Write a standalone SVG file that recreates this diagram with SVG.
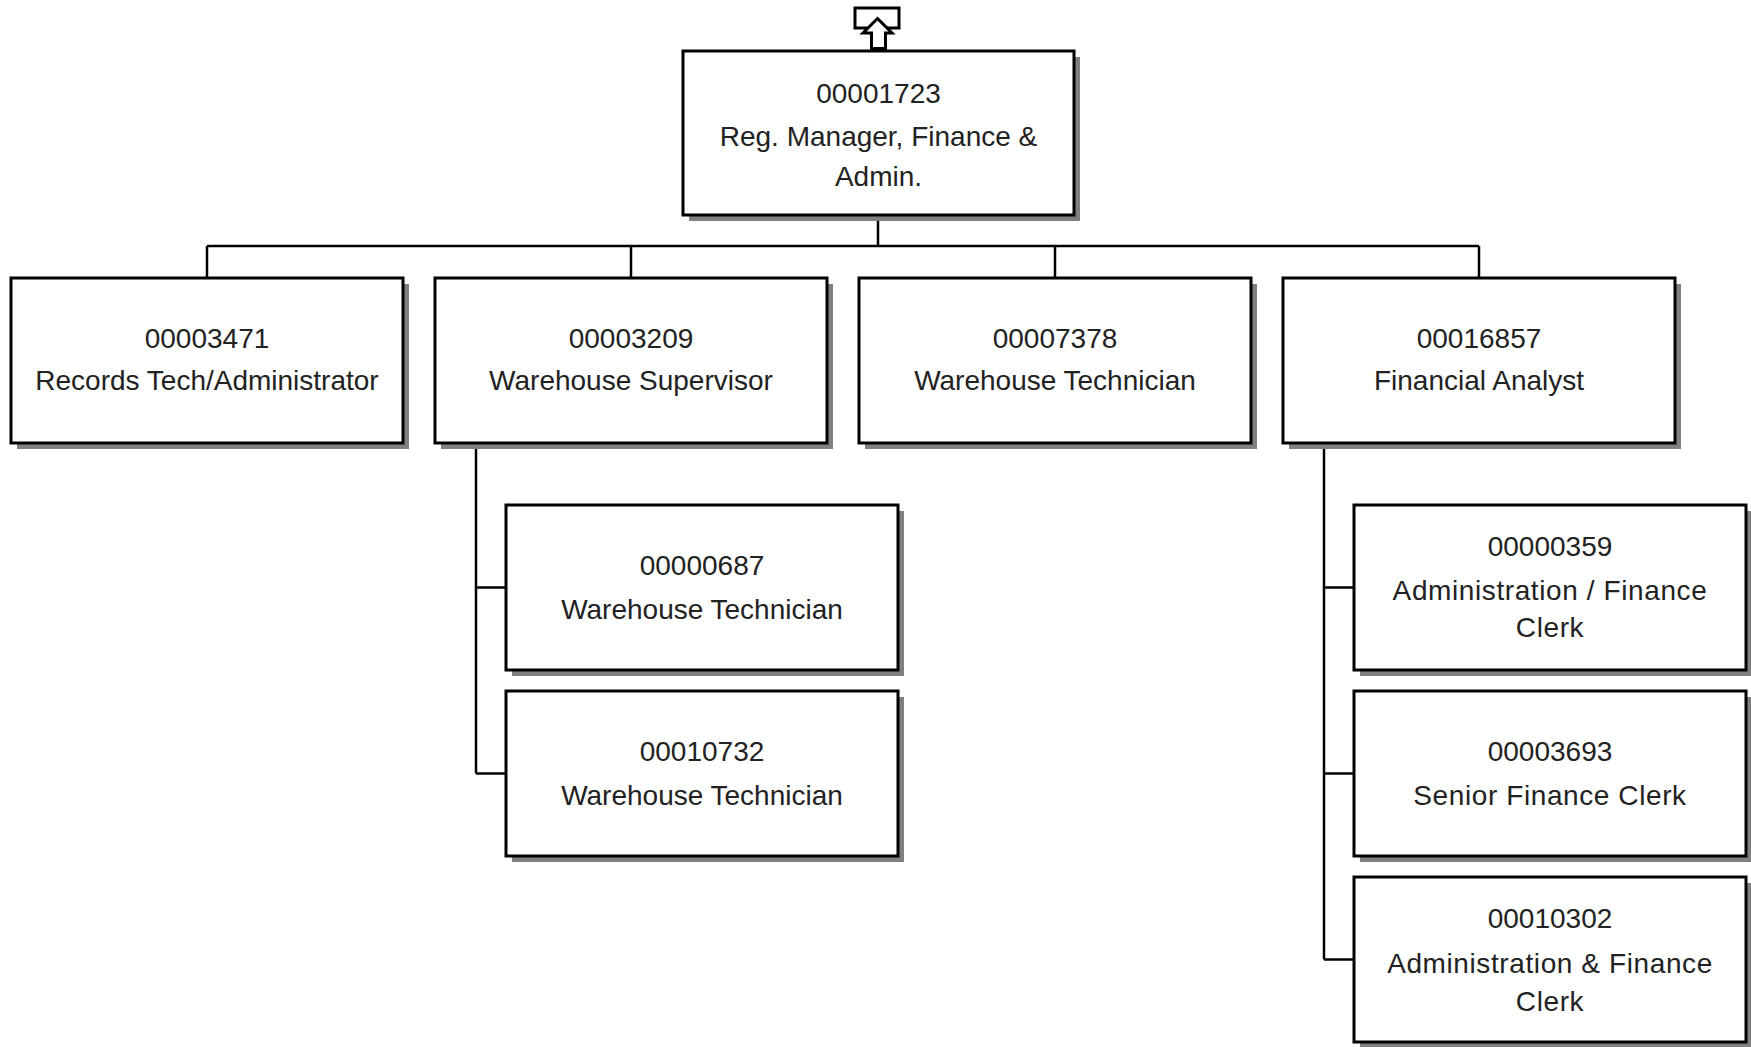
<svg xmlns="http://www.w3.org/2000/svg" width="1751" height="1047" viewBox="0 0 1751 1047">
<style>
.box{fill:#fff;stroke:#000;stroke-width:3}
.sh{fill:#808080}
.t{font-family:"Liberation Sans",Arial,sans-serif;font-size:28px;fill:#222;text-anchor:middle}
.c{fill:none;stroke:#000;stroke-width:2.5}
</style>
<rect width="1751" height="1047" fill="#fff"/>
<g id="connectors">
<path class="c" d="M878 215V246M207 246H1479M207 246V278M631 246V278M1055 246V278M1479 246V278"/>
<path class="c" d="M476 442V773.5M476 587.5H506M476 773.5H506"/>
<path class="c" d="M1324 442V959.5M1324 587.5H1354M1324 773.5H1354M1324 959.5H1354"/>
</g>
<g id="n00001723">
<rect class="sh" x="689" y="57" width="391" height="164"/>
<rect class="box" x="683" y="51" width="391" height="164"/>
<text class="t" x="878.5" y="103">00001723</text>
<text class="t" x="878.5" y="146">Reg. Manager, Finance &amp;</text>
<text class="t" x="878.5" y="186">Admin.</text>
<g id="up-icon">
<rect x="855" y="8" width="44" height="20" fill="#fff" stroke="#000" stroke-width="3"/>
<path d="M877.5 18.5L892 33H885.5V48.5H871.5V33H863Z" fill="#fff" stroke="#000" stroke-width="3" stroke-linejoin="miter"/>
</g>
</g>
<g id="n00003471">
<rect class="sh" x="17" y="284" width="392" height="165"/>
<rect class="box" x="11" y="278" width="392" height="165"/>
<text class="t" x="207" y="348">00003471</text>
<text class="t" x="207" y="390">Records Tech/Administrator</text>
</g>
<g id="n00003209">
<rect class="sh" x="441" y="284" width="392" height="165"/>
<rect class="box" x="435" y="278" width="392" height="165"/>
<text class="t" x="631" y="348">00003209</text>
<text class="t" x="631" y="390">Warehouse Supervisor</text>
</g>
<g id="n00007378">
<rect class="sh" x="865" y="284" width="392" height="165"/>
<rect class="box" x="859" y="278" width="392" height="165"/>
<text class="t" x="1055" y="348">00007378</text>
<text class="t" x="1055" y="390">Warehouse Technician</text>
</g>
<g id="n00016857">
<rect class="sh" x="1289" y="284" width="392" height="165"/>
<rect class="box" x="1283" y="278" width="392" height="165"/>
<text class="t" x="1479" y="348">00016857</text>
<text class="t" x="1479" y="390">Financial Analyst</text>
</g>
<g id="n00000687">
<rect class="sh" x="512" y="511" width="392" height="165"/>
<rect class="box" x="506" y="505" width="392" height="165"/>
<text class="t" x="702" y="575">00000687</text>
<text class="t" x="702" y="619">Warehouse Technician</text>
</g>
<g id="n00010732">
<rect class="sh" x="512" y="697" width="392" height="165"/>
<rect class="box" x="506" y="691" width="392" height="165"/>
<text class="t" x="702" y="761">00010732</text>
<text class="t" x="702" y="805">Warehouse Technician</text>
</g>
<g id="n00000359">
<rect class="sh" x="1360" y="511" width="392" height="165"/>
<rect class="box" x="1354" y="505" width="392" height="165"/>
<text class="t" x="1550" y="556">00000359</text>
<text class="t" x="1550" y="600" letter-spacing="0.6">Administration / Finance</text>
<text class="t" x="1550" y="637" letter-spacing="0.6">Clerk</text>
</g>
<g id="n00003693">
<rect class="sh" x="1360" y="697" width="392" height="165"/>
<rect class="box" x="1354" y="691" width="392" height="165"/>
<text class="t" x="1550" y="761">00003693</text>
<text class="t" x="1550" y="805" letter-spacing="0.6">Senior Finance Clerk</text>
</g>
<g id="n00010302">
<rect class="sh" x="1360" y="883" width="392" height="165"/>
<rect class="box" x="1354" y="877" width="392" height="165"/>
<text class="t" x="1550" y="928">00010302</text>
<text class="t" x="1550" y="973" letter-spacing="0.6">Administration &amp; Finance</text>
<text class="t" x="1550" y="1011" letter-spacing="0.6">Clerk</text>
</g>
</svg>
